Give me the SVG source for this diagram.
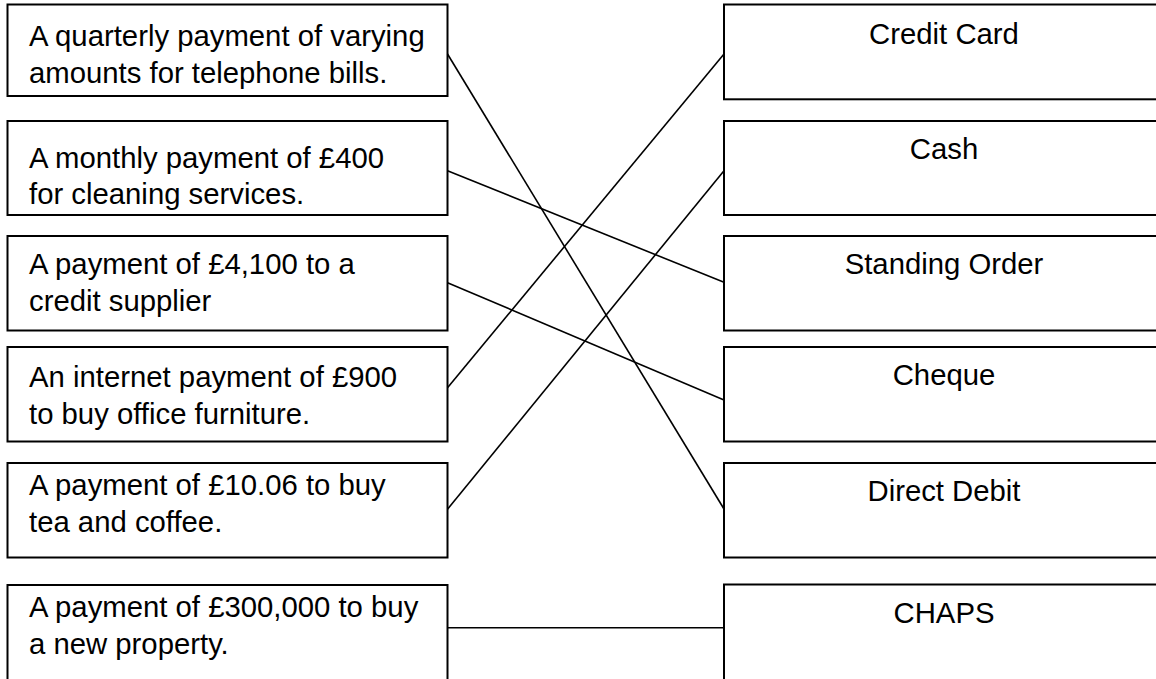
<svg xmlns="http://www.w3.org/2000/svg" width="1156" height="679" viewBox="0 0 1156 679">
<style>
.box{fill:#fff;stroke:#000;stroke-width:2}
.t{font-family:"Liberation Sans",Arial,sans-serif;font-size:29.3px;fill:#000}
.c{text-anchor:middle}
.ln{stroke:#000;stroke-width:1.6;fill:none}
</style>
<rect width="1156" height="679" fill="#fff"/>
<g id="l1"><rect class="box" x="7.5" y="4.5" width="440" height="91.5"/><text class="t" x="29" y="45.5">A quarterly payment of varying</text><text class="t" x="29" y="82.5">amounts for telephone bills.</text></g>
<g id="l2"><rect class="box" x="7.5" y="121" width="440" height="94"/><text class="t" x="29" y="167.7">A monthly payment of £400</text><text class="t" x="29" y="203.5">for cleaning services.</text></g>
<g id="l3"><rect class="box" x="7.5" y="236" width="440" height="94.5"/><text class="t" x="29" y="274">A payment of £4,100 to a</text><text class="t" x="29" y="311">credit supplier</text></g>
<g id="l4"><rect class="box" x="7.5" y="347" width="440" height="94.5"/><text class="t" x="29" y="386.7">An internet payment of £900</text><text class="t" x="29" y="423.5">to buy office furniture.</text></g>
<g id="l5"><rect class="box" x="7.5" y="463" width="440" height="94.5"/><text class="t" x="29" y="495">A payment of £10.06 to buy</text><text class="t" x="29" y="531.5">tea and coffee.</text></g>
<g id="l6"><rect class="box" x="7.5" y="585" width="440" height="120"/><text class="t" x="29" y="617.3">A payment of £300,000 to buy</text><text class="t" x="29" y="654">a new property.</text></g>
<g id="r1"><rect class="box" x="724" y="4.5" width="440" height="94.8"/><text class="t c" x="944" y="43.5">Credit Card</text></g>
<g id="r2"><rect class="box" x="724" y="121" width="440" height="94"/><text class="t c" x="944" y="159.3">Cash</text></g>
<g id="r3"><rect class="box" x="724" y="236" width="440" height="94.5"/><text class="t c" x="944" y="274.3">Standing Order</text></g>
<g id="r4"><rect class="box" x="724" y="347" width="440" height="94.5"/><text class="t c" x="944" y="385">Cheque</text></g>
<g id="r5"><rect class="box" x="724" y="463" width="440" height="94.5"/><text class="t c" x="944" y="501">Direct Debit</text></g>
<g id="r6"><rect class="box" x="724" y="584.5" width="440" height="120"/><text class="t c" x="944" y="622.7">CHAPS</text></g>
<g id="connectors">
<line class="ln" x1="447.5" y1="54" x2="724" y2="509"/>
<line class="ln" x1="447.5" y1="170.7" x2="724" y2="282.3"/>
<line class="ln" x1="447.5" y1="282.7" x2="724" y2="400"/>
<line class="ln" x1="447.5" y1="387.7" x2="724" y2="54"/>
<line class="ln" x1="447.5" y1="509.3" x2="724" y2="170.7"/>
<line class="ln" x1="447.5" y1="627.7" x2="724" y2="627.7"/>
</g>
</svg>
